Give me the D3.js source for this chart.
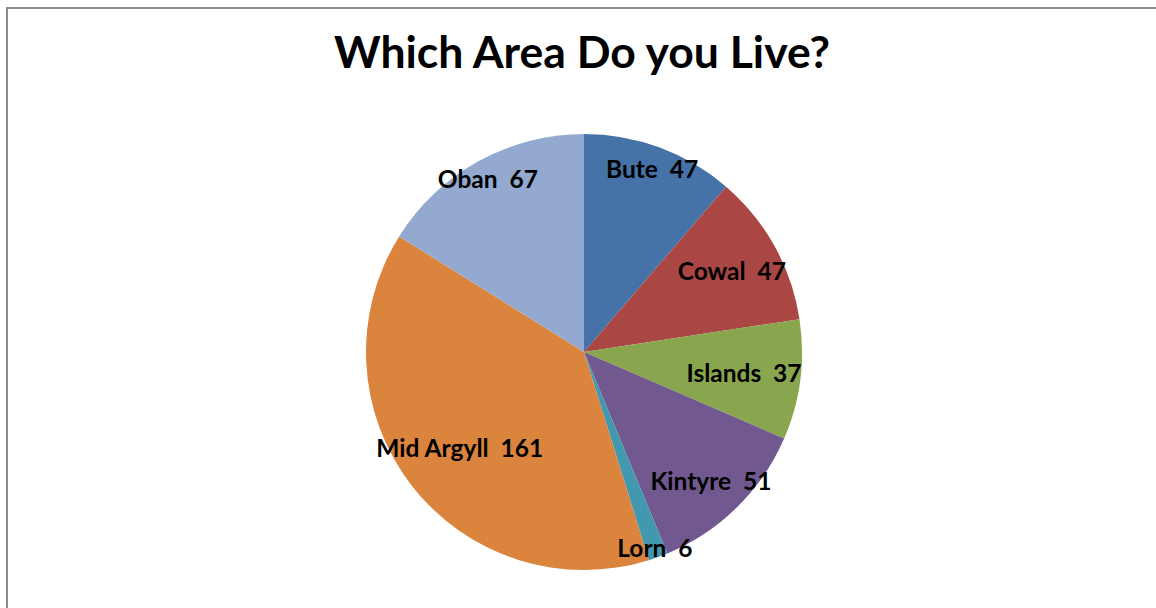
<!DOCTYPE html>
<html>
<head>
<meta charset="utf-8">
<script src="https://cdn.jsdelivr.net/npm/d3@7"></script>
<style>
  html, body { margin: 0; padding: 0; background: #fff; }
  svg { display: block; }
  text { font-family: Lato, "Open Sans", sans-serif; font-weight: bold; fill: #000; white-space: pre; }
</style>
</head>
<body>
<svg id="chart" width="1156" height="608"></svg>
<script>
// Survey answers: number of respondents per area
const areas = ["Bute", "Cowal", "Islands", "Kintyre", "Lorn", "Mid Argyll", "Oban"];
const counts = [47, 47, 37, 51, 6, 161, 67];
const sliceColors = ["#4572A7", "#AA4643", "#89A54E", "#71588F", "#4198AF", "#DB843D", "#93A9CF"];

const svg = d3.select("#chart");
const W = 1156, H = 608;

// chart frame
svg.append("rect")
  .attr("x", 7).attr("y", 8)
  .attr("width", W + 10).attr("height", H + 10)
  .attr("fill", "#fff")
  .attr("stroke", "#8c8c8c")
  .attr("stroke-width", 2);

svg.append("text")
  .attr("x", 582).attr("y", 68)
  .attr("text-anchor", "middle")
  .attr("font-size", 44.5)
  .text("Which Area Do you Live?");

const cx = 584, cy = 352, R = 218;
// radial position of each data label, as a fraction of the radius
const labelFrac = [0.90, 0.775, 0.74, 0.83, 0.955, 0.72, 0.91];

const pie = d3.pie().sort(null).value(d => d.value);
const arcs = pie(areas.map((a, i) => ({ name: a, value: counts[i], color: sliceColors[i] })));
const arc = d3.arc().innerRadius(0).outerRadius(R);

const g = svg.append("g").attr("transform", `translate(${cx},${cy})`);

g.selectAll("path.slice")
  .data(arcs)
  .join("path")
  .attr("class", "slice")
  .attr("d", arc)
  .attr("fill", d => d.data.color);

g.selectAll("text.label")
  .data(arcs)
  .join("text")
  .attr("class", "label")
  .attr("text-anchor", "middle")
  .attr("dominant-baseline", "central")
  .attr("font-size", 24.5)
  .attr("transform", (d, i) => {
    const a = (d.startAngle + d.endAngle) / 2;
    const r = R * labelFrac[i];
    return `translate(${r * Math.sin(a)},${-r * Math.cos(a)})`;
  })
  .text(d => `${d.data.name}  ${d.data.value}`);
</script>
</body>
</html>
